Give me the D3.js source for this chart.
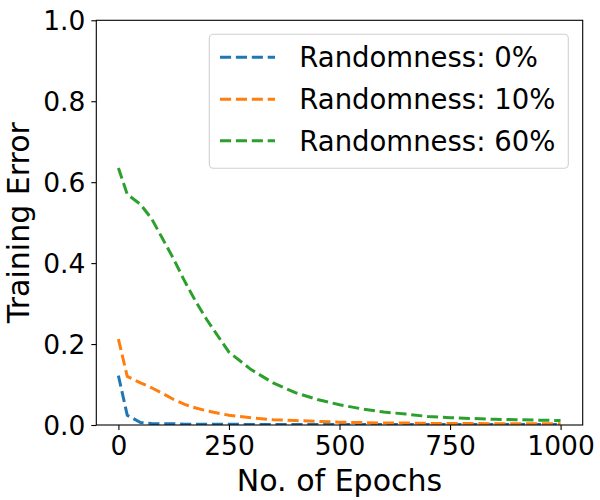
<!DOCTYPE html>
<html>
<head>
<meta charset="utf-8">
<script src="https://cdn.jsdelivr.net/npm/d3@7"></script>
<style>
  body { margin: 0; background: #fff; }
  text { font-family: "DejaVu Sans", sans-serif; fill: #000; }
</style>
</head>
<body>
<svg id="chart" width="600" height="500"></svg>
<script>
// data
const epochs = [0, 20, 50, 75, 100, 125, 150, 175, 200, 250, 300, 350, 400, 450, 500, 550, 600, 650, 700, 750, 800, 850, 900, 950, 1000];
const rand0 = [0.122, 0.024, 0.006, 0.004, 0.003, 0.003, 0.002, 0.002, 0.002, 0.002, 0.001, 0.001, 0.001, 0.001, 0.001, 0.001, 0.001, 0.001, 0.001, 0.001, 0.001, 0.001, 0.001, 0.001, 0.001];
const rand10 = [0.212, 0.120, 0.104, 0.092, 0.078, 0.063, 0.051, 0.042, 0.035, 0.024, 0.018, 0.013, 0.011, 0.009, 0.007, 0.006, 0.005, 0.005, 0.004, 0.004, 0.004, 0.003, 0.003, 0.003, 0.003];
const rand60 = [0.635, 0.570, 0.545, 0.510, 0.460, 0.410, 0.355, 0.305, 0.260, 0.180, 0.137, 0.104, 0.080, 0.063, 0.050, 0.040, 0.032, 0.027, 0.021, 0.018, 0.016, 0.014, 0.013, 0.012, 0.011];
const seriesNames = ["Randomness: 0%", "Randomness: 10%", "Randomness: 60%"];
const seriesColors = ["#1f77b4", "#ff7f0e", "#2ca02c"];
const xTicks = [0, 250, 500, 750, 1000];
const yTicks = [0, 0.2, 0.4, 0.6, 0.8, 1.0];

const series = [rand0, rand10, rand60];

const margin = {left: 96.3, top: 20.3, right: 17.3, bottom: 75};
const W = 600, H = 500;
const innerW = W - margin.left - margin.right;
const innerH = 425 - margin.top;

const svg = d3.select("#chart");
const g = svg.append("g").attr("transform", `translate(${margin.left},${margin.top})`);

const x = d3.scaleLinear().domain([-50, 1050]).range([0, innerW]);
const y = d3.scaleLinear().domain([0, 1]).range([innerH, 0]);

const line = d3.line()
    .x((d, i) => x(epochs[i]))
    .y(d => y(d));

// clip so lines stay inside axes
g.append("clipPath").attr("id", "clip")
  .append("rect").attr("width", innerW).attr("height", innerH);

series.forEach((s, k) => {
  g.append("path")
    .datum(s)
    .attr("clip-path", "url(#clip)")
    .attr("fill", "none")
    .attr("stroke", seriesColors[k])
    .attr("stroke-width", 3)
    .attr("stroke-dasharray", "11.1,4.8")
    .attr("d", line);
});

// axes
const xAxis = g.append("g")
    .attr("transform", `translate(0,${innerH})`)
    .call(d3.axisBottom(x).tickValues(xTicks).tickSize(5).tickPadding(6).tickFormat(d3.format("d")));
const yAxis = g.append("g")
    .call(d3.axisLeft(y).tickValues(yTicks).tickSize(5).tickPadding(6).tickFormat(d3.format(".1f")));

[xAxis, yAxis].forEach(a => {
  a.select(".domain").remove();
  a.selectAll("line").attr("stroke", "#000").attr("stroke-width", 1.1);
  a.selectAll("text").style("font-family", "DejaVu Sans").style("font-size", "26.5px").attr("fill", "#000");
});
xAxis.selectAll("text").attr("dy", "0.71em");
yAxis.selectAll("text").attr("dy", "0.36em");

// frame
g.append("rect")
  .attr("width", innerW).attr("height", innerH)
  .attr("fill", "none").attr("stroke", "#000").attr("stroke-width", 1.1);

// labels
svg.append("text")
  .attr("x", margin.left + innerW / 2).attr("y", 490.5)
  .attr("text-anchor", "middle")
  .style("font-size", "30px")
  .text("No. of Epochs");

svg.append("text")
  .attr("transform", `translate(29,${margin.top + innerH / 2}) rotate(-90)`)
  .attr("text-anchor", "middle")
  .style("font-size", "30px")
  .text("Training Error");

// legend
const legend = svg.append("g");
legend.append("rect")
  .attr("x", 209.3).attr("y", 34.3)
  .attr("width", 359).attr("height", 134)
  .attr("rx", 4)
  .attr("fill", "#fff").attr("fill-opacity", 0.8)
  .attr("stroke", "#d0d0d0").attr("stroke-width", 1.1);

const rowY = [57.3, 99.3, 140.7];
seriesNames.forEach((name, k) => {
  legend.append("line")
    .attr("x1", 220).attr("x2", 275)
    .attr("y1", rowY[k]).attr("y2", rowY[k])
    .attr("stroke", seriesColors[k])
    .attr("stroke-width", 3)
    .attr("stroke-dasharray", "11.1,4.8");
  legend.append("text")
    .attr("x", 299.3).attr("y", rowY[k])
    .attr("dy", "0.36em")
    .style("font-size", "27.5px")
    .text(name);
});
</script>
</body>
</html>
